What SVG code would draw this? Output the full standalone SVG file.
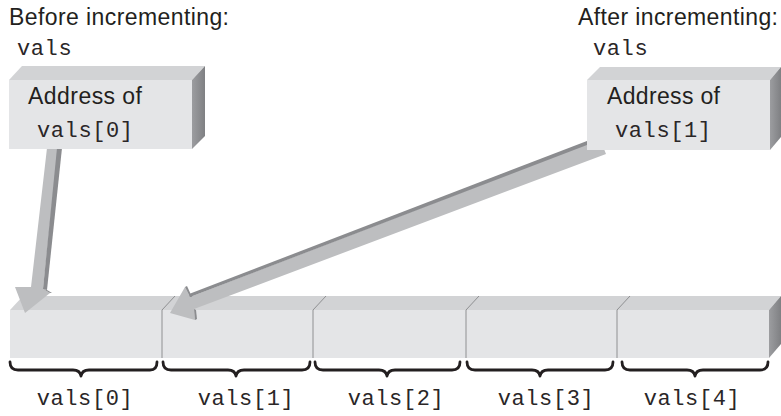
<svg xmlns="http://www.w3.org/2000/svg" width="781" height="416" viewBox="0 0 781 416">
<style>
.sans{font-family:"Liberation Sans",Arial,sans-serif;font-size:23px;fill:#231f20}
.mono{font-family:"Liberation Mono","Courier New",monospace;font-size:22px;letter-spacing:0.6px;fill:#2a2627}
.front{fill:#e4e5e7}
.top{fill:#d2d3d5}
.side{fill:url(#sideg)}
.div{stroke:#8f9092;stroke-width:1;fill:none}
.brace{stroke:#231f20;stroke-width:2.8;fill:none;stroke-linecap:round;stroke-linejoin:round}
.arr{fill:#bdbec0}
.arrd{fill:#8b8c8f}
</style>
<defs>
<linearGradient id="sideg" x1="0" y1="0" x2="1" y2="0">
<stop offset="0" stop-color="#9c9da0"/>
<stop offset="1" stop-color="#7f8083"/>
</linearGradient>
</defs>
<rect width="781" height="416" fill="#ffffff"/>

<text class="sans" x="9" y="25" textLength="220" lengthAdjust="spacing">Before incrementing:</text>
<text class="sans" x="578" y="25" textLength="200" lengthAdjust="spacing">After incrementing:</text>

<g id="array">
<polygon class="top" points="10,310 23,296 781,296 769,310"/>
<rect class="front" x="10" y="310" width="759" height="48"/>
<polygon class="side" points="769,310 781,296 781,344 769,358"/>
</g>

<g id="cell0">
<path class="brace" d="M10,362 Q10,370 18,370 L73,370 Q80,370 81,376 Q82,370 89,370 L150,370 Q157,370 157,362"/>
<text class="mono" x="85" y="405" text-anchor="middle">vals[0]</text>
</g>
<g id="cell1">
<path class="div" d="M162,358 L162,310 L175,296"/>
<path class="brace" d="M163,362 Q163,370 171,370 L228,370 Q235,370 236,376 Q237,370 244,370 L302,370 Q310,370 310,362"/>
<text class="mono" x="246" y="405" text-anchor="middle">vals[1]</text>
</g>
<g id="cell2">
<path class="div" d="M313,358 L313,310 L326,296"/>
<path class="brace" d="M315,362 Q315,370 323,370 L379,370 Q386,370 387,376 Q388,370 395,370 L452,370 Q460,370 460,362"/>
<text class="mono" x="396" y="405" text-anchor="middle">vals[2]</text>
</g>
<g id="cell3">
<path class="div" d="M466,358 L466,310 L479,296"/>
<path class="brace" d="M467,362 Q467,370 475,370 L532,370 Q539,370 540,376 Q541,370 548,370 L605,370 Q613,370 613,362"/>
<text class="mono" x="546" y="405" text-anchor="middle">vals[3]</text>
</g>
<g id="cell4">
<path class="div" d="M617,358 L617,310 L630,296"/>
<path class="brace" d="M622,362 Q622,370 630,370 L687,370 Q694,370 695,376 Q696,370 703,370 L760,370 Q768,370 768,362"/>
<text class="mono" x="692" y="405" text-anchor="middle">vals[4]</text>
</g>

<g id="connectors">
<g id="arrow-before">
<polygon class="arr" points="47,148 58,148 43,289 50,293 25,313 15,287 31,287"/>
<polygon class="arrd" points="57,148 62,148 47,290 43,289"/>
<polygon class="arrd" points="43,289 47,290 52,293 50,293"/>
</g>
<g id="arrow-after">
<polygon class="arr" points="600,139 606,154 194,309 195,320 170,313 185,287 190,297"/>
<polygon class="arrd" points="600,136 600,140 190,297 189,294"/>
<polygon class="arrd" points="185,287 187,286 192,297 190,297"/>
<polygon class="arrd" points="194,309 196,310 197,319 195,320"/>
</g>
</g>

<g id="ptr-before">
<polygon class="top" points="9,80 22,66 205,66 192,80"/>
<rect class="front" x="9" y="80" width="183" height="69"/>
<polygon class="side" points="192,80 205,66 205,136 192,149"/>
<text class="mono" x="17" y="55">vals</text>
<text class="sans" x="28" y="104" textLength="114" lengthAdjust="spacing">Address of</text>
<text class="mono" x="37" y="137">vals[0]</text>
</g>

<g id="ptr-after">
<polygon class="top" points="587,80 600,67 781,67 770,80"/>
<rect class="front" x="587" y="80" width="183" height="70"/>
<polygon class="side" points="770,80 781,67 781,137 770,150"/>
<text class="mono" x="593" y="55">vals</text>
<text class="sans" x="607" y="104" textLength="113" lengthAdjust="spacing">Address of</text>
<text class="mono" x="615" y="137">vals[1]</text>
</g>
</svg>
